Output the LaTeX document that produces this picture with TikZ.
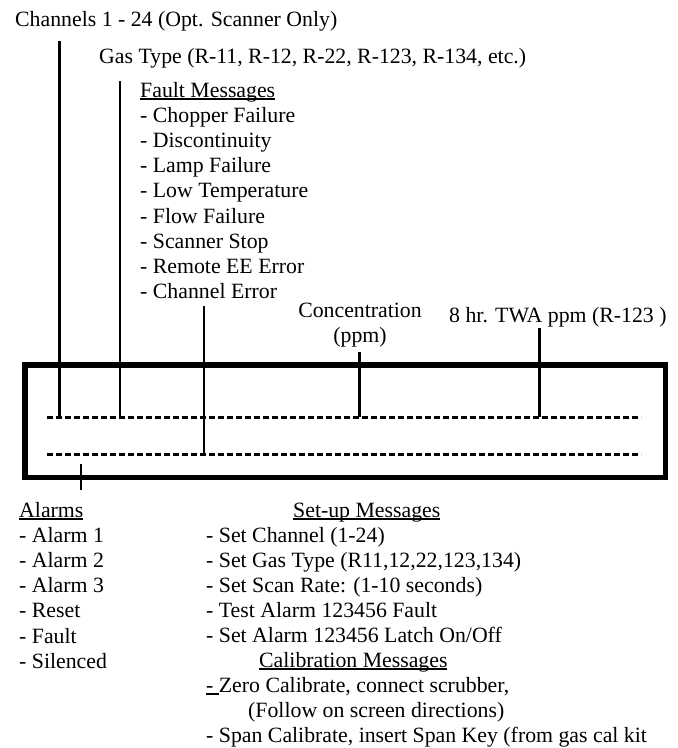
\documentclass[tikz,border=0pt]{standalone}
\usepackage{fontspec}
\setmainfont{Liberation Serif}
\usepackage{tikz}
\usetikzlibrary{positioning}

\newsavebox\ulbox
\newcommand{\ulhead}[1]{\sbox\ulbox{#1}\rlap{\rule[-2.8pt]{\wd\ulbox}{1.4pt}}\usebox\ulbox}

\begin{document}
\begin{tikzpicture}[
  x=1pt, y=-1pt,
  txt/.style={anchor=base west, inner sep=0pt, align=left, font=\fontsize{21.8}{25.2}\selectfont},
  lead/.style={line width=2.8pt},
  field/.style={line width=3pt, dash pattern=on 6pt off 3pt},
  frame/.style={line width=5.5pt},
]
\useasboundingbox (0,0) rectangle (678,748);

% Labels above the display (multi-line nodes sit on their last baseline)
\node[txt] (chan) at (15,26) {Channels 1 - 24 (Opt. Scanner Only)};
\node[txt] (gas) at (99,63) {Gas Type (R-11, R-12, R-22, R-123, R-134, etc.)};
\node[txt] (fault) at (140,298.6) {\ulhead{Fault Messages}\\- Chopper Failure\\- Discontinuity\\- Lamp Failure\\- Low Temperature\\- Flow Failure\\- Scanner Stop\\- Remote EE Error\\- Channel Error};
\node[txt, anchor=base, align=center] (conc) at (360,342.2) {Concentration\\(ppm)};
\node[txt] (twa) at (449,322) {8 hr. TWA ppm (R-123 )};

% Display frame and its two rows
\node[draw, frame, inner sep=0pt, minimum width=640.5pt, minimum height=112.5pt] (display) at (345,421) {};
\coordinate (row1w) at (47,417);
\coordinate (row1e) at (641,417);
\coordinate (row2w) at (47,454);
\coordinate (row2e) at (641,454);
\draw[field] (row1w) -- (row1e);
\draw[field] (row2w) -- (row2e);

% Leader ends
\coordinate (chan-top) at (59.5,41);
\coordinate (chan-end) at (59.5,417);
\coordinate (gas-top) at (120,81);
\coordinate (gas-end) at (120,417);
\coordinate (fault-top) at (204,306);
\coordinate (fault-end) at (204,454);
\coordinate (conc-top) at (359.5,352);
\coordinate (conc-end) at (359.5,417);
\coordinate (twa-top) at (539.5,328);
\coordinate (twa-end) at (539.5,417);
\coordinate (alarm-top) at (81,464);
\coordinate (alarm-end) at (81,490);

% Leaders
\draw[lead] (chan-top) -- (chan-end);
\draw[lead] (gas-top) -- (gas-end);
\draw[lead] (fault-top) -- (fault-end);
\draw[lead] (conc-top) -- (conc-end);
\draw[lead] (twa-top) -- (twa-end);
\draw[lead] (alarm-top) -- (alarm-end);

% Labels below the display
\node[txt] (alarms) at (19,668.2) {\ulhead{Alarms}\\- Alarm 1\\- Alarm 2\\- Alarm 3\\- Reset\\- Fault\\- Silenced};
\node[txt] (setup) at (293,517) {\ulhead{Set-up Messages}};
\node[txt] (setuplist) at (206,642.8) {- Set Channel (1-24)\\- Set Gas Type (R11,12,22,123,134)\\- Set Scan Rate: (1-10 seconds)\\- Test Alarm 123456 Fault\\- Set Alarm 123456 Latch On/Off};
\node[txt] (cal) at (259,667) {\ulhead{Calibration Messages}};
\node[txt] (callist) at (206,742.4) {\ulhead{-\ }Zero Calibrate, connect scrubber,\\\hspace*{42pt}(Follow on screen directions)\\- Span Calibrate, insert Span Key (from gas cal kit};
\end{tikzpicture}
\end{document}
